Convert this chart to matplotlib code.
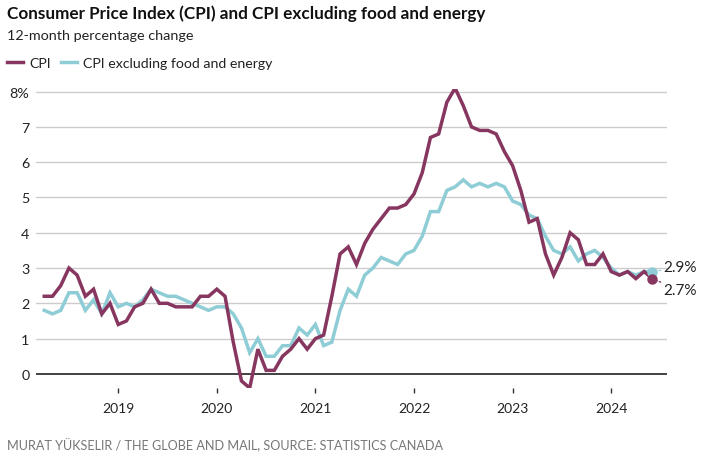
import matplotlib
matplotlib.use("Agg")
import matplotlib.pyplot as plt
from matplotlib import font_manager
from matplotlib.lines import Line2D

# ---- data ----
start_year, start_month = 2018, 4
cpi = [2.2, 2.2, 2.5, 3.0, 2.8, 2.2, 2.4, 1.7, 2.0,
       1.4, 1.5, 1.9, 2.0, 2.4, 2.0, 2.0, 1.9, 1.9, 1.9, 2.2, 2.2,
       2.4, 2.2, 0.9, -0.2, -0.4, 0.7, 0.1, 0.1, 0.5, 0.7, 1.0, 0.7,
       1.0, 1.1, 2.2, 3.4, 3.6, 3.1, 3.7, 4.1, 4.4, 4.7, 4.7, 4.8,
       5.1, 5.7, 6.7, 6.8, 7.7, 8.1, 7.6, 7.0, 6.9, 6.9, 6.8, 6.3,
       5.9, 5.2, 4.3, 4.4, 3.4, 2.8, 3.3, 4.0, 3.8, 3.1, 3.1, 3.4,
       2.9, 2.8, 2.9, 2.7, 2.9, 2.7]
core = [1.8, 1.7, 1.8, 2.3, 2.3, 1.8, 2.1, 1.7, 2.3,
        1.9, 2.0, 1.9, 2.1, 2.4, 2.3, 2.2, 2.2, 2.1, 2.0, 1.9, 1.8,
        1.9, 1.9, 1.7, 1.3, 0.6, 1.0, 0.5, 0.5, 0.8, 0.8, 1.3, 1.1,
        1.4, 0.8, 0.9, 1.8, 2.4, 2.2, 2.8, 3.0, 3.3, 3.2, 3.1, 3.4,
        3.5, 3.9, 4.6, 4.6, 5.2, 5.3, 5.5, 5.3, 5.4, 5.3, 5.4, 5.3,
        4.9, 4.8, 4.5, 4.4, 3.9, 3.5, 3.4, 3.6, 3.2, 3.4, 3.5, 3.3,
        3.0, 2.8, 2.9, 2.8, 2.9, 2.9]
year_ticks = [2019, 2020, 2021, 2022, 2023, 2024]
y_ticks = [0, 1, 2, 3, 4, 5, 6, 7, 8]
y_labels = ["0", "1", "2", "3", "4", "5", "6", "7", "8%"]
series_names = ["CPI", "CPI excluding food and energy"]

x = [start_year + (start_month - 1 + i) / 12 for i in range(len(cpi))]

PURPLE = "#87365F"
CYAN = "#8FCDD6"
DARK = "#222222"
GREY = "#777777"

avail = {f.name for f in font_manager.fontManager.ttflist}
MAIN = "Lato" if "Lato" in avail else "DejaVu Sans"
plt.rcParams["font.family"] = [MAIN, "DejaVu Sans"]

fig = plt.figure(figsize=(7.11, 4.60), dpi=100)
ax = fig.add_axes([35.6 / 711, 71 / 460, (667 - 35.6) / 711, 299 / 460])

ax.set_xlim(2018.162, 2024.566)
ax.set_ylim(-0.4, 8.074)

for v in y_ticks:
    if v == 0:
        ax.axhline(v, color="#333333", lw=1.3, zorder=1)
    else:
        ax.axhline(v, color="#cccccc", lw=1.0, zorder=0)

ax.plot(x, core, color=CYAN, lw=2.5, solid_joinstyle="miter", zorder=2)
ax.plot(x, cpi, color=PURPLE, lw=2.5, solid_joinstyle="miter", zorder=3)
ax.plot([x[-1]], [core[-1]], "o", color=CYAN, ms=6.5, zorder=4)
ax.plot([x[-1]], [cpi[-1]], "o", color=PURPLE, ms=6.5, zorder=5)

ax.annotate(f"{core[-1]}%", xy=(x[-1], core[-1]), xytext=(8.0, 3.0),
            textcoords="offset points", va="center", ha="left",
            fontsize=11, color=DARK,
            arrowprops=dict(arrowstyle="-", color=CYAN, lw=1, linestyle=":",
                            shrinkA=0, shrinkB=1))
ax.annotate(f"{cpi[-1]}%", xy=(x[-1], cpi[-1]), xytext=(8.0, -8.5),
            textcoords="offset points", va="center", ha="left",
            fontsize=11, color=DARK,
            arrowprops=dict(arrowstyle="-", color=PURPLE, lw=1, linestyle=":",
                            shrinkA=0, shrinkB=1))

for s in ax.spines.values():
    s.set_visible(False)

ax.set_yticks(y_ticks)
ax.set_yticklabels(y_labels)
ax.tick_params(axis="y", length=0, pad=4.5, labelsize=10.3, labelcolor=DARK)
ax.set_xticks(year_ticks)
ax.set_xticklabels([str(y) for y in year_ticks])
ax.tick_params(axis="x", length=3.6, width=1, color="#333333", pad=6.5,
               labelsize=10, labelcolor=DARK)

fig.text(7 / 711, 1 - 18.5 / 460,
         "Consumer Price Index (CPI) and CPI excluding food and energy",
         fontsize=12.3, fontweight="bold", color="#111111", va="baseline", ha="left")
fig.text(7 / 711, 1 - 40 / 460, "12-month percentage change",
         fontsize=10.4, color=DARK, va="baseline", ha="left")

handles = [Line2D([], [], color=PURPLE, lw=2.5), Line2D([], [], color=CYAN, lw=2.5)]
fig.legend(handles, series_names, loc="center left",
           bbox_to_anchor=(7 / 711, 1 - 64 / 460), ncol=2, frameon=False,
           fontsize=10.2, handlelength=1.1, handletextpad=0.45, columnspacing=0.75,
           borderpad=0, borderaxespad=0, labelcolor=DARK)

fig.text(7 / 711, 1 - 450 / 460,
         "MURAT YÜKSELIR / THE GLOBE AND MAIL, SOURCE: STATISTICS CANADA",
         fontsize=9.1, color=GREY, va="baseline", ha="left")

fig.savefig("out.png", dpi=100)
